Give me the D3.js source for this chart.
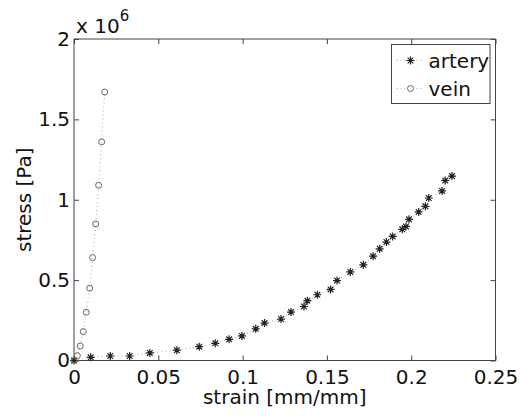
<!DOCTYPE html>
<html>
<head>
<meta charset="utf-8">
<script src="https://cdn.jsdelivr.net/npm/d3@7"></script>
<style>
  body { margin: 0; background: #fff; }
  text { font-family: "DejaVu Sans", sans-serif; fill: #111; }
</style>
</head>
<body>
<div id="chart"></div>
<script>
// strain [mm/mm] and stress [Pa]
var arteryStrain = [0, 0.0099, 0.0215, 0.033, 0.045, 0.061, 0.0743, 0.0838, 0.092, 0.0996, 0.1078,
    0.113, 0.1228, 0.1287, 0.1364, 0.1384, 0.1443, 0.1522, 0.156, 0.1639, 0.1716, 0.1774, 0.1813,
    0.1853, 0.189, 0.1947, 0.1969, 0.1987, 0.2044, 0.2084, 0.2104, 0.2183, 0.2202, 0.2242];
var arteryStress = [0, 0.02e6, 0.028e6, 0.028e6, 0.047e6, 0.064e6, 0.086e6, 0.107e6, 0.132e6, 0.153e6, 0.197e6,
    0.233e6, 0.258e6, 0.301e6, 0.336e6, 0.372e6, 0.409e6, 0.442e6, 0.497e6, 0.551e6, 0.595e6, 0.649e6, 0.695e6,
    0.737e6, 0.772e6, 0.816e6, 0.834e6, 0.878e6, 0.924e6, 0.959e6, 1.011e6, 1.055e6, 1.12e6, 1.147e6];
var veinStrain = [0, 0.002, 0.0037, 0.0055, 0.0073, 0.0093, 0.011, 0.0129, 0.0146, 0.0164, 0.0182];
var veinStress = [0, 0.03e6, 0.09e6, 0.18e6, 0.30e6, 0.45e6, 0.64e6, 0.85e6, 1.09e6, 1.36e6, 1.67e6];

var xTicks = [0, 0.05, 0.1, 0.15, 0.2, 0.25];
var yTicks = [0, 0.5e6, 1e6, 1.5e6, 2e6];
var seriesNames = ["artery", "vein"];

var margin = {top: 39, right: 24.5, bottom: 55.5, left: 74},
    width = 520 - margin.left - margin.right,
    height = 416 - margin.top - margin.bottom;

var svg = d3.select("#chart")
    .append("svg")
    .attr("width", 520)
    .attr("height", 416)
    .append("g")
    .attr("transform", "translate(" + margin.left + "," + margin.top + ")");

var x = d3.scaleLinear().domain([0, 0.25]).range([0, width]);
var y = d3.scaleLinear().domain([0, 2e6]).range([height, 0]);

var axisColor = "#444";
var fontSize = "20px";

// axes, MATLAB style: boxed, ticks pointing inward on all four sides
function styleAxis(g) {
    g.select(".domain").remove();
    g.selectAll("line").attr("stroke", axisColor);
    g.selectAll("text").style("font-size", fontSize).attr("fill", "#111");
}

svg.append("g")
    .attr("transform", "translate(0," + height + ")")
    .call(d3.axisBottom(x).tickValues(xTicks).tickSize(-5).tickPadding(9)
        .tickFormat(function(d) { return d === 0 ? "0" : String(+d.toFixed(2)); }))
    .call(styleAxis);

svg.append("g")
    .call(d3.axisTop(x).tickValues(xTicks).tickSize(-5).tickFormat(""))
    .call(styleAxis);

svg.append("g")
    .call(d3.axisLeft(y).tickValues(yTicks).tickSize(-5).tickPadding(4)
        .tickFormat(function(d) { return String(d / 1e6); }))
    .call(styleAxis);

svg.append("g")
    .attr("transform", "translate(" + width + ",0)")
    .call(d3.axisRight(y).tickValues(yTicks).tickSize(-5).tickFormat(""))
    .call(styleAxis);

svg.append("rect")
    .attr("width", width)
    .attr("height", height)
    .attr("fill", "none")
    .attr("stroke", axisColor)
    .attr("stroke-width", 1);

// exponent label
var expo = svg.append("text")
    .attr("x", 2)
    .attr("y", -6)
    .style("font-size", fontSize);
expo.append("tspan").text("x 10");
expo.append("tspan").attr("dy", -12).style("font-size", "15px").text("6");

// axis titles
svg.append("text")
    .attr("text-anchor", "middle")
    .attr("x", width / 2)
    .attr("y", height + 43)
    .style("font-size", fontSize)
    .text("strain [mm/mm]");

svg.append("text")
    .attr("text-anchor", "middle")
    .attr("transform", "rotate(-90)")
    .attr("x", -height / 2)
    .attr("y", -43)
    .style("font-size", fontSize)
    .text("stress [Pa]");

// markers
function drawStar(g, cx, cy, r, color) {
    var d = "";
    [0, 45, 90, 135].forEach(function(a) {
        var rad = a * Math.PI / 180;
        var dx = Math.cos(rad) * r, dy = Math.sin(rad) * r;
        d += "M" + (cx - dx) + "," + (cy - dy) + "L" + (cx + dx) + "," + (cy + dy);
    });
    g.append("path").attr("d", d).attr("stroke", color).attr("stroke-width", 1.2).attr("fill", "none");
}

var line = d3.line()
    .x(function(d) { return x(d[0]); })
    .y(function(d) { return y(d[1]); });

var artery = arteryStrain.map(function(s, i) { return [s, arteryStress[i]]; });
var vein = veinStrain.map(function(s, i) { return [s, veinStress[i]]; });

var lineColor = "#aaa";

svg.append("path")
    .datum(artery)
    .attr("d", line)
    .attr("fill", "none")
    .attr("stroke", lineColor)
    .attr("stroke-width", 1)
    .attr("stroke-dasharray", "1,3");

svg.append("path")
    .datum(vein)
    .attr("d", line)
    .attr("fill", "none")
    .attr("stroke", lineColor)
    .attr("stroke-width", 1)
    .attr("stroke-dasharray", "1,3");

var starColor = "#222";
var circleColor = "#666";

var stars = svg.append("g");
artery.forEach(function(p) { drawStar(stars, x(p[0]), y(p[1]), 4, starColor); });

svg.append("g").selectAll("circle")
    .data(vein)
    .enter()
    .append("circle")
    .attr("cx", function(d) { return x(d[0]); })
    .attr("cy", function(d) { return y(d[1]); })
    .attr("r", 3)
    .attr("fill", "none")
    .attr("stroke", circleColor)
    .attr("stroke-width", 1);

// legend
var legend = svg.append("g").attr("transform", "translate(" + (391.5 - margin.left) + "," + (44.5 - margin.top) + ")");
legend.append("rect")
    .attr("width", 98.5)
    .attr("height", 59)
    .attr("fill", "#fff")
    .attr("stroke", axisColor)
    .attr("stroke-width", 1);

seriesNames.forEach(function(name, i) {
    var cy = 16 + i * 28;
    legend.append("line")
        .attr("x1", 5).attr("x2", 33)
        .attr("y1", cy).attr("y2", cy)
        .attr("stroke", lineColor)
        .attr("stroke-dasharray", "1,3");
    if (i === 0) {
        drawStar(legend, 19, cy, 4, starColor);
    } else {
        legend.append("circle")
            .attr("cx", 19).attr("cy", cy).attr("r", 3)
            .attr("fill", "#fff").attr("stroke", circleColor);
    }
    legend.append("text")
        .attr("x", 37)
        .attr("y", cy + 7)
        .style("font-size", fontSize)
        .text(name);
});
</script>
</body>
</html>
